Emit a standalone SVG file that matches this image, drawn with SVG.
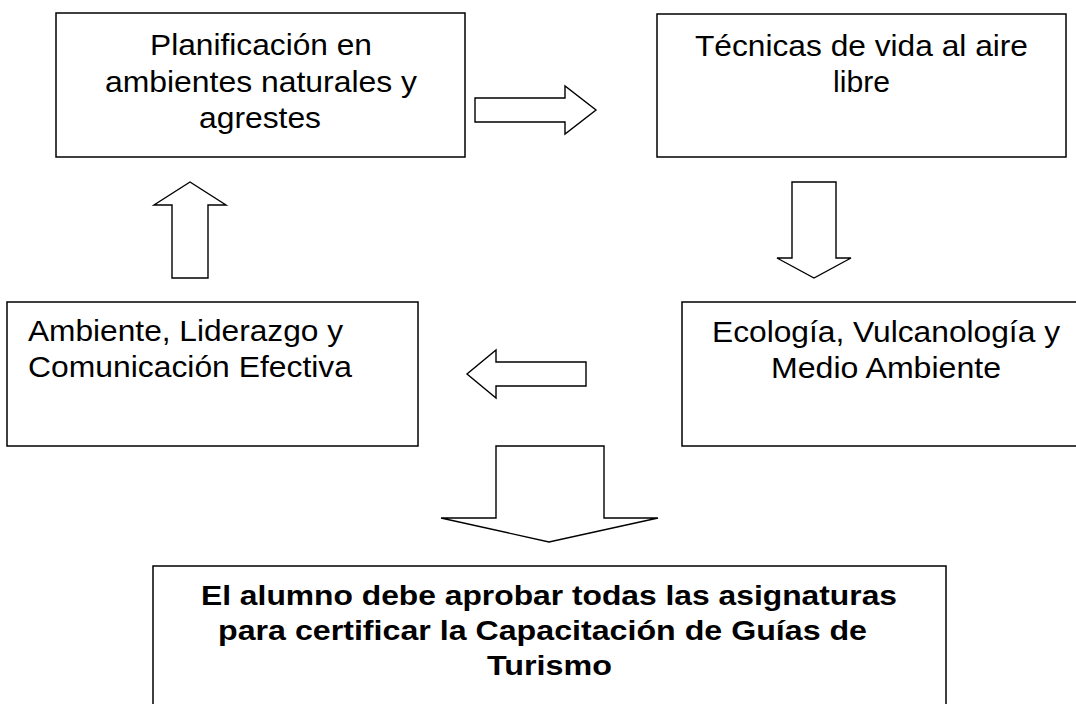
<svg xmlns="http://www.w3.org/2000/svg" width="1076" height="704" viewBox="0 0 1076 704">
<style>
.box{fill:#fff;stroke:#000;stroke-width:1.5}
.arr{fill:#fff;stroke:#000;stroke-width:1.4;stroke-linejoin:miter}
.t{font-family:"Liberation Sans",Arial,sans-serif;font-size:30px;fill:#000}
.b{font-family:"Liberation Sans",Arial,sans-serif;font-size:28.5px;font-weight:bold;fill:#000}
</style>
<rect width="1076" height="704" fill="#fff"/>
<g id="connectors">
<polygon class="arr" points="475,98 565,98 565,86 596,110 565,134 565,122 475,122"/>
<polygon class="arr" points="792,182 836,182 836,258 851,258 814,278 777,258 792,258"/>
<polygon class="arr" points="586,362 496,362 496,350 467,374 496,398 496,386 586,386"/>
<polygon class="arr" points="172,278 172,205 154,205 190,182 226,205 208,205 208,278"/>
<polygon class="arr" points="496,446 604,446 604,518 658,518 549,542 441,518 496,518"/>
</g>
<g id="node-planificacion">
<rect class="box" x="56" y="13" width="409" height="144"/>
<text class="t" x="150" y="55" textLength="222" lengthAdjust="spacingAndGlyphs">Planificación en</text>
<text class="t" x="105" y="92" textLength="312" lengthAdjust="spacingAndGlyphs">ambientes naturales y</text>
<text class="t" x="199" y="128" textLength="122" lengthAdjust="spacingAndGlyphs">agrestes</text>
</g>
<g id="node-tecnicas">
<rect class="box" x="657" y="14" width="409" height="143"/>
<text class="t" x="695" y="56" textLength="333" lengthAdjust="spacingAndGlyphs">Técnicas de vida al aire</text>
<text class="t" x="833" y="92" textLength="57" lengthAdjust="spacingAndGlyphs">libre</text>
</g>
<g id="node-ecologia">
<rect class="box" x="682" y="302" width="410" height="144"/>
<text class="t" x="712" y="342" textLength="348" lengthAdjust="spacingAndGlyphs">Ecología, Vulcanología y</text>
<text class="t" x="771" y="378" textLength="230" lengthAdjust="spacingAndGlyphs">Medio Ambiente</text>
</g>
<g id="node-ambiente">
<rect class="box" x="7" y="302" width="411" height="144"/>
<text class="t" x="28" y="341" textLength="315" lengthAdjust="spacingAndGlyphs">Ambiente, Liderazgo y</text>
<text class="t" x="28" y="377" textLength="324" lengthAdjust="spacingAndGlyphs">Comunicación Efectiva</text>
</g>
<g id="node-certificar">
<rect class="box" x="153" y="566" width="793" height="160"/>
<text class="b" x="201" y="605" textLength="696" lengthAdjust="spacingAndGlyphs">El alumno debe aprobar todas las asignaturas</text>
<text class="b" x="218" y="640" textLength="649" lengthAdjust="spacingAndGlyphs">para certificar la Capacitación de Guías de</text>
<text class="b" x="487" y="675" textLength="125" lengthAdjust="spacingAndGlyphs">Turismo</text>
</g>
</svg>
